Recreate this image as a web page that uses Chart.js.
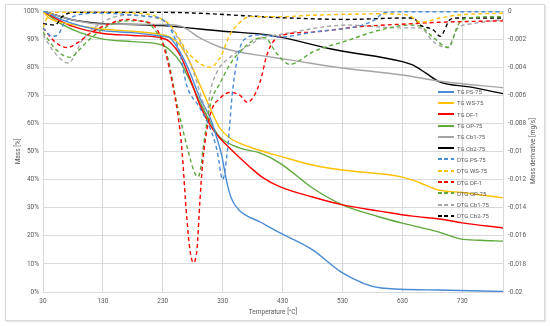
<!DOCTYPE html>
<html>
<head>
<meta charset="utf-8">
<title>TG / DTG</title>
<script src="https://cdn.jsdelivr.net/npm/chart.js"></script>
<style>
    body { margin: 0; background: #fff; }
    .wrap { position: relative; width: 550px; height: 326px; }
    .frame {
        position: absolute; left: 5px; top: 4px; width: 538px; height: 315px;
        border: 1px solid #d9d9d9; box-shadow: 1px 1px 2px rgba(0, 0, 0, 0.12);
    }
    canvas { position: absolute; left: 0; top: 0; }
    .legend { position: absolute; left: 438px; top: 86px; font-family: Roboto, sans-serif; }
    .legend div { height: 11.3px; display: flex; align-items: center; font-size: 6px; color: #595959; white-space: nowrap; }
    .legend .swatch { width: 16px; height: 2px; margin-right: 3px; }
    .rtitle {
        position: absolute; left: 533px; top: 151px; transform: translate(-50%, -50%) rotate(-90deg);
        font: 6.5px Roboto, sans-serif; color: #595959; white-space: nowrap;
    }
</style>
</head>
<body>
<div class="wrap">
    <div class="frame"></div>
    <canvas id="chart" width="550" height="326"></canvas>
    <div class="legend" id="legend"></div>
    <div class="rtitle">Mass derivative [mg/s]</div>
</div>

<script>
    // axis ticks
    const xTicks = [30, 130, 230, 330, 430, 530, 630, 730];

    const names = ['PS-75', 'WS-75', 'DF-1', 'OP-75', 'Cb1-75', 'Cb2-75'];
    const colors = ['#4a8bd6', '#ffc000', '#ff0000', '#5fa83c', '#a5a5a5', '#000000'];

    // TG curves, mass [%]
    const tgPsT = [30, 45, 60, 80, 130, 180, 230, 242, 259, 275, 292, 309, 320, 329, 336, 344, 358, 392, 426, 480, 530, 592, 690, 798];
    const tgPs = [100, 98.5, 97, 95.5, 93, 92.3, 91, 90.4, 85.4, 78.3, 69, 62, 55, 48, 40, 33.5, 29, 25, 21, 15, 6.8, 1.5, 0.7, 0.2];

    const tgWsT = [30, 40, 50, 70, 130, 180, 230, 242, 259, 275, 292, 309, 325, 342, 375, 431, 480, 530, 630, 660, 690, 730, 798];
    const tgWs = [100, 97.5, 96.5, 95.5, 93.5, 92.8, 91.5, 90.7, 87.9, 81.9, 73.7, 65.5, 58.4, 54.8, 51.6, 48, 45.2, 43.4, 40.9, 38.8, 36.3, 35.4, 33.5];

    const tgDfT = [30, 50, 80, 130, 180, 230, 242, 259, 275, 292, 309, 325, 342, 359, 378, 397, 426, 480, 530, 592, 647, 692, 730, 798];
    const tgDf = [100, 97.5, 94.5, 92, 91.3, 90.3, 89, 84.3, 76.2, 66.5, 59.4, 54.8, 51.2, 47.7, 44, 40.7, 37.4, 33.8, 31, 28.8, 27, 26, 24.6, 22.8];

    const tgOpT = [30, 58, 92, 130, 180, 230, 242, 259, 275, 292, 309, 325, 359, 392, 426, 480, 530, 592, 630, 690, 727, 760, 798];
    const tgOp = [100, 95.7, 92.3, 90, 89.1, 87.8, 86, 81.9, 75.4, 67.6, 60.5, 55.2, 51.2, 49.5, 45.8, 37, 31, 26.7, 24.5, 21.4, 18.9, 18.4, 18.1];

    const tgCb1T = [30, 60, 80, 130, 180, 230, 260, 292, 325, 358, 392, 442, 520, 630, 700, 798];
    const tgCb1 = [100, 98, 96.8, 95.3, 95.3, 95.2, 94.6, 90.4, 87.2, 85.4, 84.2, 82.6, 80, 77.2, 74.8, 72.7];

    const tgCb2T = [30, 60, 80, 130, 180, 230, 330, 408, 520, 630, 647, 670, 692, 742, 798];
    const tgCb2 = [100, 98, 96.8, 95.5, 95.2, 94.8, 92.8, 91.4, 86.1, 82, 80.8, 77.8, 74.8, 73, 70.6];

    // DTG curves, mass derivative [mg/s]
    const dtgPsT = [30, 45, 55, 65, 80, 125, 208, 225, 242, 259, 270, 292, 313, 321, 330, 338, 347, 359, 371, 392, 426, 481, 563, 585, 600, 660, 798];
    const dtgPs = [-0.0012, -0.0018, -0.0017, -0.0009, -0.0004, -0.00015, -0.0004, -0.0005, -0.0012, -0.0031, -0.0053, -0.0069, -0.0088, -0.0100, -0.0120, -0.0099, -0.0055, -0.0026, -0.0019, -0.0017, -0.00185, -0.0015, -0.001, -0.0006, -0.0001, -0.00005, -0.00005];

    const dtgWsT = [30, 38, 50, 130, 200, 225, 242, 275, 309, 326, 342, 359, 376, 430, 480, 592, 640, 660, 693, 720, 798];
    const dtgWs = [-0.0012, -0.0004, -0.0001, -0.0001, -0.0002, -0.0005, -0.001, -0.0031, -0.004, -0.0033, -0.0017, -0.0008, -0.0004, -0.0004, -0.0003, -0.0002, -0.0003, -0.0008, -0.0005, -0.0003, -0.00015];

    const dtgDfT = [30, 50, 70, 90, 108, 142, 170, 192, 214, 225, 242, 259, 262, 270, 276, 281, 287, 292, 297, 309, 326, 342, 359, 371, 392, 404, 414, 431, 480, 563, 647, 692, 798];
    const dtgDf = [-0.0012, -0.0022, -0.0026, -0.0022, -0.0016, -0.0009, -0.0006, -0.0007, -0.001, -0.0017, -0.0043, -0.0086, -0.0099, -0.0147, -0.0172, -0.0179, -0.017, -0.0135, -0.0106, -0.0074, -0.0062, -0.0058, -0.006, -0.0065, -0.0051, -0.0031, -0.0022, -0.0017, -0.0015, -0.0011, -0.0009, -0.0008, -0.0007];

    const dtgOpT = [30, 53, 75, 92, 108, 142, 170, 192, 214, 237, 254, 272, 283, 289, 294, 297, 309, 326, 342, 359, 385, 400, 420, 442, 481, 538, 593, 643, 660, 682, 707, 723, 738, 798];
    const dtgOp = [-0.0015, -0.0028, -0.0033, -0.0027, -0.002, -0.001, -0.0007, -0.0007, -0.0012, -0.0031, -0.0067, -0.0099, -0.0115, -0.0118, -0.011, -0.0099, -0.0067, -0.0051, -0.0038, -0.0029, -0.002, -0.0019, -0.003, -0.0038, -0.0029, -0.0021, -0.00135, -0.001, -0.0011, -0.0019, -0.0026, -0.001, -0.0005, -0.0004];

    const dtgCb1T = [30, 50, 72, 97, 125, 170, 209, 237, 259, 281, 297, 304, 309, 321, 342, 376, 397, 421, 538, 626, 660, 682, 705, 723, 748, 798];
    const dtgCb1 = [-0.0017, -0.003, -0.0037, -0.002, -0.0009, -0.0003, -0.0004, -0.0009, -0.0022, -0.0043, -0.0065, -0.0073, -0.0058, -0.0043, -0.0033, -0.0024, -0.00185, -0.0017, -0.001, -0.0012, -0.0012, -0.0022, -0.0026, -0.0012, -0.0009, -0.0006];

    const dtgCb2T = [30, 50, 62, 80, 230, 443, 538, 631, 648, 660, 682, 693, 710, 722, 798];
    const dtgCb2 = [-0.0009, -0.001, -0.0004, -0.0001, -0.0001, -0.0005, -0.0006, -0.0005, -0.0005, -0.001, -0.00135, -0.0018, -0.0006, -0.0005, -0.0005];

    const tgData = [[tgPsT, tgPs], [tgWsT, tgWs], [tgDfT, tgDf], [tgOpT, tgOp], [tgCb1T, tgCb1], [tgCb2T, tgCb2]];
    const dtgData = [[dtgPsT, dtgPs], [dtgWsT, dtgWs], [dtgDfT, dtgDf], [dtgOpT, dtgOp], [dtgCb1T, dtgCb1], [dtgCb2T, dtgCb2]];

    const toPoints = (t, v) => t.map((x, i) => ({ x: x, y: v[i] }));

    const datasets = [];
    tgData.forEach((d, i) => {
        datasets.push({ label: 'TG ' + names[i], data: toPoints(d[0], d[1]), borderColor: colors[i], yAxisID: 'y', order: 1 });
    });
    dtgData.forEach((d, i) => {
        datasets.push({ label: 'DTG ' + names[i], data: toPoints(d[0], d[1]), borderColor: colors[i], borderDash: [4, 3], yAxisID: 'y2', order: 0 });
    });

    const txt = '#595959';
    const tickFont = { family: 'Roboto', size: 6.5 };

    new Chart(document.getElementById('chart'), {
        type: 'line',
        data: { datasets: datasets },
        options: {
            responsive: false,
            animation: false,
            layout: { padding: { left: 10, right: 0, top: 11, bottom: 6 } },
            plugins: { legend: { display: false }, tooltip: { enabled: false } },
            elements: {
                point: { radius: 0 },
                line: { borderWidth: 1.4, cubicInterpolationMode: 'monotone', fill: false }
            },
            scales: {
                x: {
                    type: 'linear', min: 30, max: 798,
                    afterBuildTicks: s => { s.ticks = xTicks.map(v => ({ value: v })); },
                    afterFit: s => { s.height = 28; },
                    grid: { color: '#d9d9d9', drawTicks: false },
                    border: { display: false },
                    ticks: { padding: 5, font: tickFont, color: txt },
                    title: { display: true, text: 'Temperature [°C]', font: tickFont, color: txt, padding: { top: 3, bottom: 4 } }
                },
                y: {
                    min: 0, max: 100,
                    afterFit: s => { s.width = 33; },
                    grid: { color: '#d9d9d9', drawTicks: false },
                    border: { display: false },
                    ticks: { stepSize: 10, padding: 4, font: tickFont, color: txt, callback: v => v + '%' },
                    title: { display: true, text: 'Mass [%]', font: tickFont, color: txt, padding: { top: 4, bottom: 0 } }
                },
                y2: {
                    position: 'right', min: -0.02, max: 0,
                    afterFit: s => { s.width = 47; },
                    grid: { display: false, drawTicks: false },
                    border: { display: true, color: '#d9d9d9' },
                    ticks: { stepSize: 0.002, padding: 5, font: tickFont, color: txt, callback: v => String(+v.toFixed(3)) }
                }
            }
        }
    });

    // legend, laid over the plot area
    const legend = document.getElementById('legend');
    datasets.forEach(ds => {
        const row = document.createElement('div');
        const sw = document.createElement('span');
        sw.className = 'swatch';
        sw.style.background = ds.borderDash
            ? 'repeating-linear-gradient(to right, ' + ds.borderColor + ' 0 4px, transparent 4px 6.5px)'
            : ds.borderColor;
        row.appendChild(sw);
        row.appendChild(document.createTextNode(ds.label));
        legend.appendChild(row);
    });
</script>
</body>
</html>
